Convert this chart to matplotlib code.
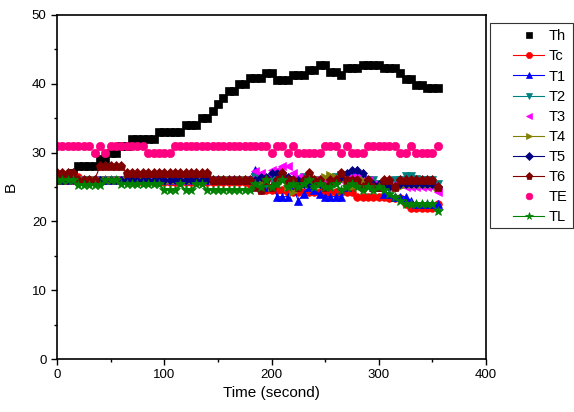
import numpy as np
import matplotlib
matplotlib.use('Agg')
import matplotlib.pyplot as plt
from matplotlib.patches import Rectangle

plt.rcParams['font.family'] = ['Liberation Sans', 'DejaVu Sans']

# time axis (seconds), one reading every 5 s
time_s = np.arange(0, 360, 5)

th = [26, 26, 26, 27, 28, 28, 28, 28, 29, 29, 30, 30,
      31, 31, 32, 32, 32, 32, 32, 33, 33, 33, 33, 33,
      34, 34, 34, 35, 35, 36, 37, 38, 39, 39, 40, 40,
      40.8, 40.8, 40.8, 41.6, 41.6, 40.6, 40.6, 40.6, 41.3, 41.3, 41.3, 42.0,
      42.0, 42.7, 42.7, 41.7, 41.7, 41.3, 42.3, 42.3, 42.3, 42.7, 42.7, 42.7,
      42.7, 42.3, 42.3, 42.3, 41.6, 40.7, 40.7, 39.8, 39.8, 39.4, 39.4, 39.4]

tc = [26.5, 26.5, 26.5, 26.5, 26.5, 26, 26, 26, 26, 26, 26, 26,
      26, 26, 26, 25.8, 25.8, 25.8, 25.8, 25.8, 25.8, 25.8, 25.8, 25.8,
      25.8, 25.8, 25.8, 25.8, 25.8, 25.8, 25.8, 25.8, 25.8, 25.8, 25.8, 25.8,
      25.5, 25.5, 24.6, 24.6, 24.6, 24.6, 24.6, 24.3, 24.3, 24.3, 24.3, 24.3,
      24.3, 24.3, 24.3, 24.3, 24.3, 24.3, 24.3, 24.3, 23.6, 23.6, 23.6, 23.6,
      23.6, 23.6, 23.4, 23.4, 23.4, 22.6, 22, 22, 22, 22, 22, 22.6]

t1 = [26.5, 26.5, 26.5, 26.5, 26, 26, 26, 26, 26, 26, 26, 26,
      26, 26, 26, 26, 26, 26, 26, 26, 26, 26, 26, 26,
      26, 26, 26, 26, 26, 26, 26, 26, 26, 26, 26, 26,
      26, 27.5, 26, 25, 27, 23.6, 23.6, 23.6, 25, 23, 24, 25,
      24.5, 24, 23.6, 23.6, 23.6, 23.6, 25, 26, 27.5, 27, 26, 25,
      25, 24, 24, 23.6, 23.6, 23.6, 23, 22.6, 22.6, 22.6, 22.6, 22.6]

t2 = [26, 26, 26, 26, 26, 26, 26, 26, 26, 26, 26, 26,
      26, 26, 26, 26, 26, 26, 26, 26, 26, 26, 26, 26,
      26, 26, 26, 26, 26, 26, 26, 26, 26, 26, 26, 26,
      26, 26.5, 26, 25.5, 26, 26, 26.5, 26, 25.5, 26, 26.5, 26,
      26, 25.5, 26, 26, 26.5, 26.8, 26.5, 26, 26, 25.5, 26, 26,
      25.5, 25.5, 25.5, 26, 26, 26.6, 26.6, 26.2, 26, 26, 26, 25.5]

t3 = [26, 26, 26, 26, 26, 26, 26, 26, 26, 26, 26, 26,
      26, 26, 26, 26, 26, 26, 26, 26, 26, 26, 26, 26,
      26, 26, 26, 26, 26, 26, 26, 26, 26, 26, 26, 26,
      26, 27.3, 27, 26.5, 27.5, 27.5, 28, 28, 27, 26.5, 26, 26,
      26, 25.5, 26, 26, 26, 26, 26.5, 26.5, 26.5, 26, 26, 25.5,
      25.5, 25.5, 25.5, 25.5, 25.5, 25, 25, 25, 25, 25, 25, 24.3]

t4 = [26, 26, 26, 26, 26, 26, 26, 26, 26, 26, 26, 26,
      26, 26, 26, 26, 26, 26, 26, 26, 26, 26, 26, 26,
      26, 26, 26, 26, 26, 26, 26, 26, 26, 26, 26, 26,
      26, 25.5, 25.5, 26, 25, 25.5, 26, 25, 24.3, 25, 25.5, 26,
      25.5, 26, 26.5, 26.8, 26.5, 26, 25.5, 25, 25.5, 26, 25.5, 25,
      25, 25.5, 25.5, 25, 25, 25.5, 25.5, 25.5, 25.5, 25.5, 25.5, 25]

t5 = [26, 26, 26, 26, 26, 26, 26, 26, 26, 26, 26, 26,
      26, 26, 26, 26, 26, 26, 26, 26, 26, 26, 26, 26,
      26, 26, 26, 26, 26, 26, 26, 26, 26, 26, 26, 26,
      26, 26, 26.5, 26.5, 27, 27, 27, 26.5, 26, 26, 25.5, 25.5,
      26, 25.5, 25, 25.5, 26, 26.5, 27, 27.5, 27.5, 27, 26, 25.5,
      25.5, 25, 25, 25, 25.5, 25.5, 25.5, 25.5, 25.5, 25.5, 25.5, 25]

t6 = [27, 27, 27, 27, 26, 26, 26, 26, 28, 28, 28, 28,
      28, 27, 27, 27, 27, 27, 27, 27, 27, 27, 27, 27,
      27, 27, 27, 27, 27, 26, 26, 26, 26, 26, 26, 26,
      26, 25, 24.6, 26, 25, 26, 27, 26, 26, 25, 26, 27,
      26, 26, 25, 26, 26, 27, 26, 26, 26, 25, 26, 25,
      25, 26, 26, 25, 26, 26, 26, 26, 26, 26, 26, 25]

te = [31, 31, 31, 31, 31, 31, 31, 30, 31, 30, 31, 31,
      31, 31, 31, 31, 31, 30, 30, 30, 30, 30, 31, 31,
      31, 31, 31, 31, 31, 31, 31, 31, 31, 31, 31, 31,
      31, 31, 31, 31, 30, 31, 31, 30, 31, 30, 30, 30,
      30, 30, 31, 31, 31, 30, 31, 30, 30, 30, 31, 31,
      31, 31, 31, 31, 30, 30, 31, 30, 30, 30, 30, 31]

tl = [26, 26, 26, 26, 25.3, 25.3, 25.3, 25.3, 25.3, 26, 26, 26,
      25.5, 25.5, 25.5, 25.5, 25.5, 25.5, 25.5, 25.5, 24.6, 24.6, 24.6, 25.4,
      24.6, 24.6, 25.4, 25.4, 24.6, 24.6, 24.6, 24.6, 24.6, 24.6, 24.6, 24.6,
      24.6, 25.5, 25, 26, 25, 25.5, 26, 25, 25.5, 25, 25.5, 26,
      25, 25.5, 25, 25, 25.5, 24.5, 25, 25.5, 25, 24.5, 25, 24.5,
      25, 24.5, 24, 23.5, 23, 22.6, 22.6, 22.6, 22.6, 22.6, 22.6, 21.5]

fig = plt.figure(figsize=(5.74, 4.12), dpi=100)
ax = fig.add_axes([0.0993, 0.1286, 0.7474, 0.835])

# (label, values, marker, color, marker size, draw line)
series = [
    ('Th', th, 's', 'black', 5.5, False),
    ('Tc', tc, 'o', '#ff0000', 5.5, True),
    ('T1', t1, '^', '#0000ff', 6, True),
    ('T2', t2, 'v', '#008080', 6, True),
    ('T3', t3, '<', '#ff00ff', 6, False),
    ('T4', t4, '>', '#808000', 6, True),
    ('T5', t5, 'D', '#000080', 4.5, True),
    ('T6', t6, 'p', '#800000', 6.5, True),
    ('TE', te, 'o', '#ff0080', 6, False),
    ('TL', tl, '*', '#008000', 7, True),
]

for label, vals, mk, col, ms, with_line in series:
    ax.plot(time_s, vals, marker=mk, color=col, markersize=ms,
            linestyle='-' if with_line else 'none', linewidth=0.8,
            markeredgewidth=0.5, label=label)

ax.set_xlim(0, 400)
ax.set_ylim(0, 50)
ax.set_xticks([0, 100, 200, 300, 400])
ax.set_xticks([50, 150, 250, 350], minor=True)
ax.set_yticks([0, 10, 20, 30, 40, 50])
ax.set_yticks([5, 15, 25, 35, 45], minor=True)
ax.tick_params(which='major', direction='out', length=4, width=1, labelsize=9.5)
ax.tick_params(which='minor', direction='out', length=2.5, width=1)
for sp in ax.spines.values():
    sp.set_linewidth(1.2)

ax.set_xlabel('Time (second)', fontsize=11, labelpad=3)
ax.set_ylabel('B', fontsize=11, labelpad=10)

# legend box spans to the figure edge, so draw the frame separately (behind the axes)
fig.patches.append(Rectangle((490 / 574, 1 - 228 / 412), 83 / 574, 205 / 412,
                             transform=fig.transFigure, facecolor='white',
                             edgecolor='#333333', linewidth=0.8, zorder=-1))
ax.legend(loc='upper left', bbox_to_anchor=(506 / 574, 1 - 22 / 412),
          bbox_transform=fig.transFigure, borderaxespad=0,
          fontsize=10.5, frameon=False, handlelength=2.1, labelspacing=0.42,
          handletextpad=0.35, borderpad=0.5, numpoints=1, markerscale=0.8)

fig.savefig('out.png', dpi=100)
